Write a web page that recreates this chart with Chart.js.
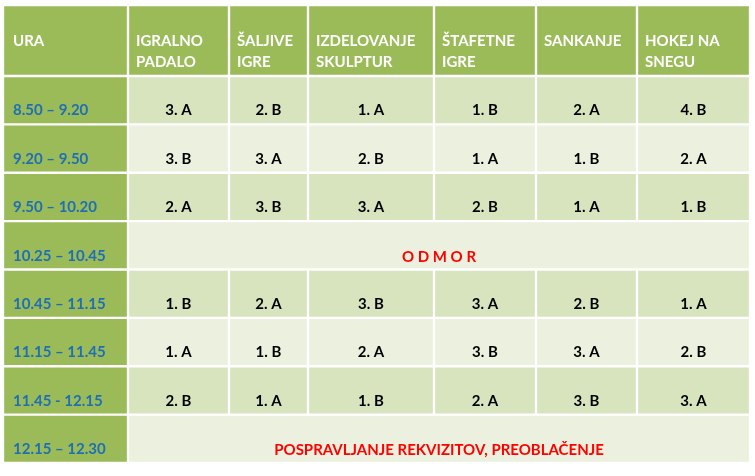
<!DOCTYPE html>
<html><head><meta charset="utf-8">
<script src="https://cdn.jsdelivr.net/npm/chart.js@4"></script>
<style>html,body{margin:0;padding:0;background:#fff;overflow:hidden}#h{width:755px;height:76px}#w{width:755px;height:400px}</style>
</head><body><div id="h"><canvas id="ch"></canvas></div><div id="w"><canvas id="c"></canvas></div>
<script>
const headers = ["URA","IGRALNO|PADALO","ŠALJIVE|IGRE","IZDELOVANJE|SKULPTUR","ŠTAFETNE|IGRE","SANKANJE","HOKEJ NA|SNEGU"];
const times = ["8.50 – 9.20","9.20 – 9.50","9.50 – 10.20","10.25 – 10.45","10.45 – 11.15","11.15 – 11.45","11.45 - 12.15","12.15 – 12.30"];
const grid = [
 ["3. A","2. B","1. A","1. B","2. A","4. B"],
 ["3. B","3. A","2. B","1. A","1. B","2. A"],
 ["2. A","3. B","3. A","2. B","1. A","1. B"],
 ["O D M O R"],
 ["1. B","2. A","3. B","3. A","2. B","1. A"],
 ["1. A","1. B","2. A","3. B","3. A","2. B"],
 ["2. B","1. A","1. B","2. A","3. B","3. A"],
 ["POSPRAVLJANJE REKVIZITOV, PREOBLAČENJE"]
];
const colWidths = [125,101,79,126,102,101,113];
const total = colWidths.reduce((a,b)=>a+b,0);
const rest = total-colWidths[0];
const FONT='bold 15px Lato, "Liberation Sans", sans-serif';
const common={indexAxis:'y',responsive:true,maintainAspectRatio:false,animation:false,
  plugins:{legend:{display:false},tooltip:{enabled:false}},
  scales:{x:{stacked:true,display:false,min:0,max:total},y:{stacked:true,display:false}}};
const bar=(o)=>Object.assign({borderColor:'#fff',borderWidth:1.5,borderSkipped:false,barPercentage:1,categoryPercentage:1},o);

// header chart
new Chart(document.getElementById('ch'),{type:'bar',
  data:{labels:['H'],datasets:colWidths.map(w=>bar({data:[w],backgroundColor:'#9BBB59'}))},
  options:Object.assign({},common,{layout:{padding:{left:3,right:5,top:5,bottom:0}}}),
  plugins:[{id:'th',afterDatasetsDraw(chart){
    const ctx=chart.ctx;
    chart.data.datasets.forEach((ds,ci)=>{
      const el=chart.getDatasetMeta(ci).data[0];
      const x0=Math.min(el.x,el.base);
      ctx.save();ctx.font=FONT;ctx.fillStyle='#fff';ctx.textAlign='left';
      const lines=headers[ci].split('|');
      if(ci===0) ctx.fillText(lines[0],x0+10,el.y+5);
      else lines.forEach((l,i)=>ctx.fillText(l,x0+8,el.y+5+i*21));
      ctx.restore();
    });
  }}]
});

// body chart
const datasets = colWidths.map((w,ci)=>bar({
  data: times.map((r,ri)=>{
    const g=grid[ri];
    if(g.length===1){ if(ci===0) return w; if(ci===1) return rest; return 0; }
    return w;
  }),
  backgroundColor: times.map((r,ri)=> ci===0?'#9BBB59':((ri%2===0)?'#D7E4BD':'#EBF1DE'))
}));
new Chart(document.getElementById('c'),{
  type:'bar',
  data:{labels:times,datasets},
  options:Object.assign({},common,{layout:{padding:{left:3,right:5,top:0,bottom:13}}}),
  plugins:[{id:'t',afterDatasetsDraw(chart){
    const ctx=chart.ctx;
    chart.data.datasets.forEach((ds,ci)=>{
      chart.getDatasetMeta(ci).data.forEach((el,ri)=>{
        if(!ds.data[ri]) return;
        const x0=Math.min(el.x,el.base), x1=Math.max(el.x,el.base);
        const bot=el.y+el.height/2;
        ctx.save();ctx.font=FONT;
        if(ci===0){
          ctx.fillStyle='#1F6FB5';ctx.textAlign='left';
          ctx.fillText(times[ri],x0+10,bot-9);
        } else {
          const g=grid[ri];ctx.textAlign='center';
          if(g.length===1){ctx.fillStyle='#FF0000';ctx.fillText(g[0],(x0+x1)/2,bot-8);}
          else {ctx.fillStyle='#000';ctx.fillText(g[ci-1],(x0+x1)/2,bot-9);}
        }
        ctx.restore();
      });
    });
  }}]
});
</script></body></html>
